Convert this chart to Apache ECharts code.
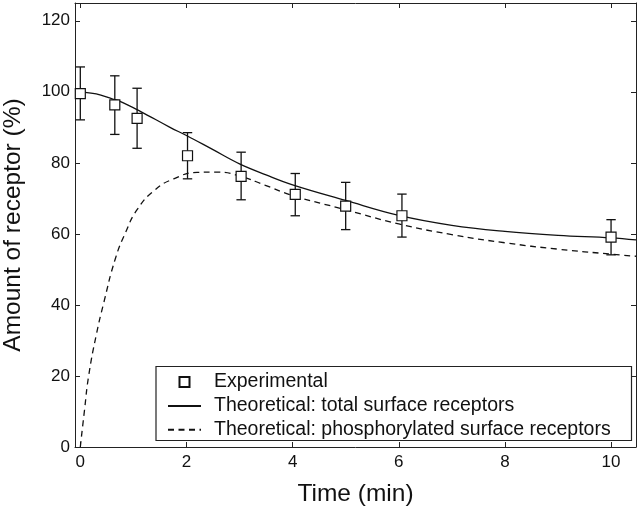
<!DOCTYPE html>
<html>
<head>
<meta charset="utf-8">
<script src="https://cdn.jsdelivr.net/npm/echarts@6/dist/echarts.min.js"></script>
<style>
  html, body { margin: 0; padding: 0; background: #fff; }
  #chart { width: 640px; height: 509px; }
</style>
</head>
<body>
<div id="chart"></div>
<script>
// experimental points (time, mean, error bar low / high)
var expTime = [0, 0.65, 1.07, 2.02, 3.03, 4.05, 5.0, 6.06, 10.0];
var expMean = [99.5, 96.3, 92.5, 82.0, 76.2, 71.1, 67.8, 65.1, 59.1];
var expLow = [92.1, 88.0, 84.1, 75.5, 69.6, 65.1, 61.2, 59.1, 54.1];
var expHigh = [107.0, 104.5, 101.0, 88.5, 83.0, 77.0, 74.5, 71.2, 64.0];

// theoretical: total surface receptors
var totalTime = [0, 0.3, 0.6, 0.75, 1.13, 1.69, 2, 2.5, 3, 3.5, 4, 5, 6, 7, 8, 9, 10, 10.47];
var totalValue = [100, 99.4, 98.0, 97.3, 94.5, 90.0, 87.7, 83.7, 79.7, 76.6, 73.8, 69.4, 65.2, 62.4, 60.7, 59.6, 58.9, 58.3];

// theoretical: phosphorylated surface receptors
var phosTime = [0, 0.08, 0.157, 0.3, 0.44, 0.66, 0.85, 1.07, 1.4, 1.76, 2.2, 2.6, 3, 3.5, 4, 5, 6, 7, 8, 9, 10, 10.47];
var phosValue = [0, 10.5, 20, 31.5, 40.5, 53, 60.3, 66.8, 72.3, 75.5, 77.3, 77.4, 76.3, 73.6, 70.8, 66.8, 62.8, 59.8, 57.5, 55.7, 54.3, 53.7];

var xTicks = [0, 2, 4, 6, 8, 10];
var yTicks = [0, 20, 40, 60, 80, 100, 120];

var seriesNames = ['Experimental', 'Theoretical: total surface receptors', 'Theoretical: phosphorylated surface receptors'];

var FONT = '"Liberation Sans", Arial, Helvetica, sans-serif';
var INK = '#111';

function pairs(xs, ys) {
	var out = [];
	for (var i = 0; i < xs.length; i++) {
		out.push([xs[i], ys[i]]);
	}
	return out;
}

function tickFormatter(list) {
	return function (v) {
		var r = Math.round(v);
		if (Math.abs(v - r) < 1e-6 && list.indexOf(r) >= 0) {
			return String(r);
		}
		return '';
	};
}

var errData = [];
for (var i = 0; i < expTime.length; i++) {
	errData.push([expTime[i], expLow[i], expHigh[i]]);
}

var myChart = echarts.init(document.getElementById('chart'), null, { renderer: 'canvas' });

var baseAxis = {
	type: 'value',
	axisLine: { show: true, onZero: false, lineStyle: { color: '#222', width: 1 } },
	axisTick: { show: true, inside: true, length: 5, lineStyle: { color: '#222', width: 1 } },
	splitLine: { show: false }
};

var option = {
	animation: false,
	backgroundColor: '#fff',
	textStyle: { fontFamily: FONT },
	grid: { left: 75, right: 4, top: 3, bottom: 62, containLabel: false, outerBoundsMode: 'none' },
	legend: {
		orient: 'vertical',
		left: 167,
		top: 372,
		padding: 0,
		itemWidth: 33,
		itemHeight: 12.5,
		itemGap: 3.9,
		selectedMode: false,
		textStyle: { fontFamily: FONT, fontSize: 19.5, color: INK, padding: [0, 0, 0, 8] },
		data: [
			{ name: seriesNames[0] },
			{ name: seriesNames[1], itemStyle: { opacity: 0 } },
			{ name: seriesNames[2], itemStyle: { opacity: 0 } }
		]
	},
	graphic: [{
		type: 'rect',
		shape: { x: 156, y: 366.5, width: 475.5, height: 74 },
		style: { fill: 'none', stroke: '#222', lineWidth: 1.2 },
		z: 100
	}],
	xAxis: [
		echarts.util.merge({
			min: -0.1,
			max: 10.47,
			position: 'bottom',
			name: 'Time (min)',
			nameLocation: 'middle',
			nameGap: 35,
			nameTextStyle: { fontFamily: FONT, fontSize: 24.5, color: INK },
			axisLabel: { formatter: tickFormatter(xTicks), fontFamily: FONT, fontSize: 17, color: INK, margin: 7 }
		}, baseAxis),
		echarts.util.merge({
			min: -0.1,
			max: 10.47,
			position: 'top',
			axisLabel: { show: false }
		}, baseAxis)
	],
	yAxis: [
		echarts.util.merge({
			min: 0,
			max: 125,
			interval: 20,
			position: 'left',
			name: 'Amount of receptor (%)',
			nameLocation: 'middle',
			nameGap: 49,
			nameTextStyle: { fontFamily: FONT, fontSize: 24.5, color: INK },
			axisLabel: { formatter: tickFormatter(yTicks), fontFamily: FONT, fontSize: 17, color: INK, margin: 5 }
		}, baseAxis),
		echarts.util.merge({
			min: 0,
			max: 125,
			interval: 20,
			position: 'right',
			axisLabel: { show: false }
		}, baseAxis)
	],
	series: [
		{
			name: seriesNames[1],
			type: 'line',
			xAxisIndex: 0,
			yAxisIndex: 0,
			data: pairs(totalTime, totalValue),
			smooth: 0.4,
			symbol: 'none',
			lineStyle: { color: INK, width: 1.3 },
			itemStyle: { color: INK },
			emphasis: { disabled: true },
			z: 2
		},
		{
			name: seriesNames[2],
			type: 'line',
			xAxisIndex: 0,
			yAxisIndex: 0,
			data: pairs(phosTime, phosValue),
			smooth: 0.5,
			symbol: 'none',
			lineStyle: { color: INK, width: 1.3, type: [6, 4.5] },
			itemStyle: { color: INK },
			emphasis: { disabled: true },
			z: 2
		},
		{
			name: 'errorbars',
			type: 'custom',
			xAxisIndex: 0,
			yAxisIndex: 0,
			data: errData,
			renderItem: function (params, api) {
				var lo = api.coord([api.value(0), api.value(1)]);
				var hi = api.coord([api.value(0), api.value(2)]);
				var hw = 4.7;
				var st = { stroke: INK, lineWidth: 1.3, fill: null };
				return {
					type: 'group',
					children: [
						{ type: 'line', shape: { x1: lo[0], y1: lo[1], x2: hi[0], y2: hi[1] }, style: st },
						{ type: 'line', shape: { x1: lo[0] - hw, y1: lo[1], x2: lo[0] + hw, y2: lo[1] }, style: st },
						{ type: 'line', shape: { x1: hi[0] - hw, y1: hi[1], x2: hi[0] + hw, y2: hi[1] }, style: st }
					]
				};
			},
			z: 3
		},
		{
			name: seriesNames[0],
			type: 'line',
			xAxisIndex: 0,
			yAxisIndex: 0,
			data: pairs(expTime, expMean),
			symbol: 'rect',
			symbolSize: 10,
			showSymbol: true,
			showAllSymbol: true,
			lineStyle: { opacity: 0, width: 0 },
			itemStyle: { color: '#fff', borderColor: INK, borderWidth: 1.2 },
			emphasis: { disabled: true },
			z: 5
		}
	]
};

myChart.setOption(option);
</script>
</body>
</html>
